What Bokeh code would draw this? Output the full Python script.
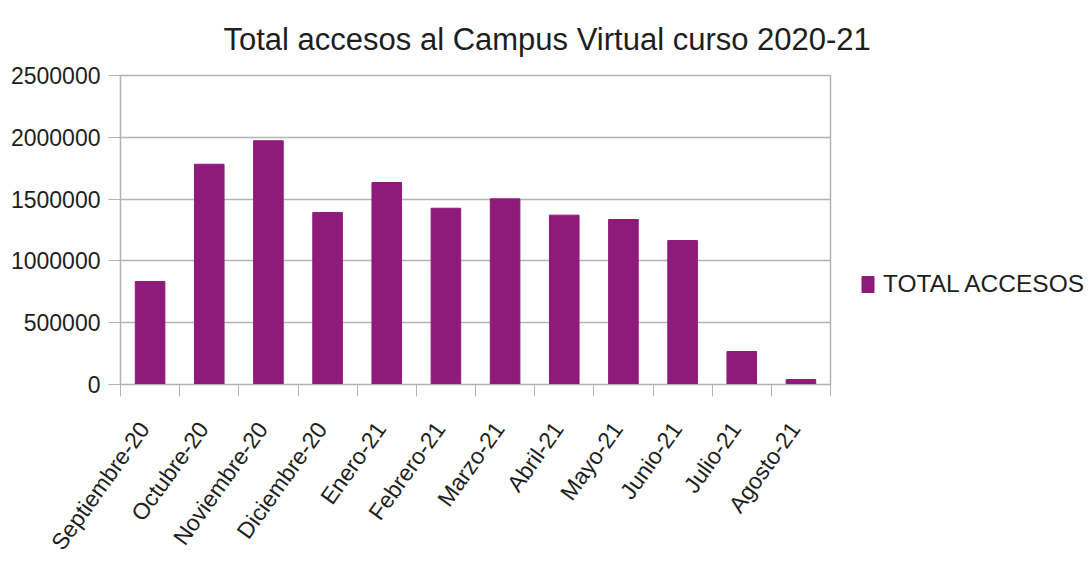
from bokeh.plotting import figure
from bokeh.models import (Range1d, FixedTicker, BasicTickFormatter, Legend, LegendItem,
                          ColumnDataSource)
from bokeh.embed import file_html
from bokeh.resources import INLINE

categories = ["Septiembre-20", "Octubre-20", "Noviembre-20", "Diciembre-20", "Enero-21",
              "Febrero-21", "Marzo-21", "Abril-21", "Mayo-21", "Junio-21", "Julio-21", "Agosto-21"]
total_accesos = [833000, 1782000, 1972000, 1392000, 1634000, 1426000,
                 1502000, 1370000, 1335000, 1165000, 267000, 40000]
y_ticks = [0, 500000, 1000000, 1500000, 2000000, 2500000]
chart_title = "Total accesos al Campus Virtual curso 2020-21"

BAR = "#8e1a7a"
GRID = "#b3b3b3"
TXT = "#1e1e1e"
FONT = "Liberation Sans"

xpos = list(range(len(categories)))
src = ColumnDataSource(dict(x=xpos, top=total_accesos, cat=categories))

p = figure(frame_width=710, frame_height=309, output_backend="svg", toolbar_location=None,
           x_range=Range1d(-0.5, len(categories) - 0.5), y_range=Range1d(0, 2500000),
           min_border_left=120, min_border_right=8, min_border_top=75, min_border_bottom=175,
           title=chart_title)

p.title.text_font = FONT
p.title.text_font_size = "31px"
p.title.text_font_style = "normal"
p.title.text_color = TXT
p.title.align = "left"
p.title.offset = 103
p.title.standoff = 37

bars = p.vbar(x="x", top="top", width=0.5, source=src, fill_color=BAR, line_color=BAR)

# y axis
p.yaxis.ticker = FixedTicker(ticks=y_ticks)
p.yaxis.formatter = BasicTickFormatter(use_scientific=False)
p.yaxis.major_tick_out = 12
p.yaxis.major_tick_in = 0
p.yaxis.minor_tick_out = 0
p.yaxis.minor_tick_in = 0
p.yaxis.major_label_standoff = 8
p.yaxis.major_label_text_font = FONT
p.yaxis.major_label_text_font_size = "23px"
p.yaxis.major_label_text_color = TXT
p.yaxis.axis_line_color = GRID
p.yaxis.major_tick_line_color = GRID

# x axis: labels slightly left of each category centre, ticks at category boundaries
label_shift = 0.1
label_pos = [i - label_shift for i in xpos]
p.xaxis.ticker = FixedTicker(ticks=label_pos, minor_ticks=[i - 0.5 for i in range(len(categories) + 1)])
p.xaxis.major_label_overrides = {pos: c for pos, c in zip(label_pos, categories)}
p.xaxis.major_tick_out = 0
p.xaxis.major_tick_in = 0
p.xaxis.minor_tick_out = 12
p.xaxis.minor_tick_in = 0
p.xaxis.minor_tick_line_color = GRID
p.xaxis.axis_line_color = GRID
p.xaxis.major_label_orientation = 0.95
p.xaxis.major_label_standoff = 28
p.xaxis.major_label_text_font = FONT
p.xaxis.major_label_text_font_size = "23px"
p.xaxis.major_label_text_color = TXT

p.xgrid.grid_line_color = None
p.ygrid.ticker = FixedTicker(ticks=y_ticks)
p.ygrid.grid_line_color = GRID
p.ygrid.grid_line_width = 1.5
p.outline_line_color = GRID
p.outline_line_width = 1.5

legend = Legend(items=[LegendItem(label="TOTAL ACCESOS", renderers=[bars])],
                location=(30, 86), padding=0, margin=0, spacing=0,
                glyph_width=15, glyph_height=20, label_standoff=8,
                label_text_font=FONT, label_text_font_size="24.5px", label_text_color=TXT,
                border_line_alpha=0, background_fill_alpha=0)
p.add_layout(legend, "right")

open("out.html", "w").write(file_html(p, INLINE))
